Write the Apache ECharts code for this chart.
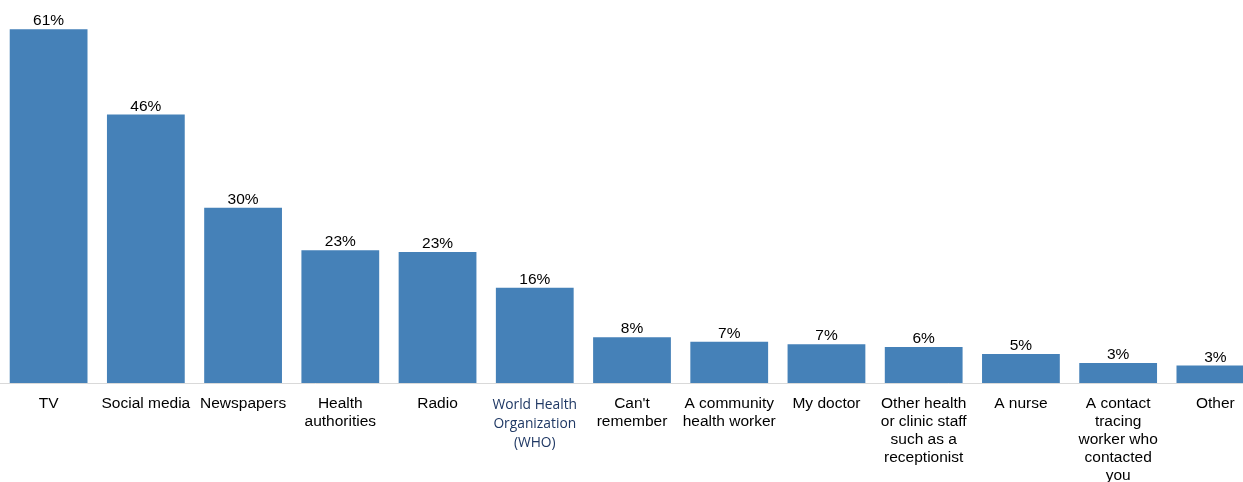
<!DOCTYPE html>
<html>
<head>
<meta charset="utf-8">
<script src="https://cdn.jsdelivr.net/npm/echarts@6/dist/echarts.min.js"></script>
<style>
html,body{margin:0;padding:0;overflow:hidden;background:#fff;}
#chart{width:1264px;height:482px;}
</style>
</head>
<body>
<div id="chart"></div>
<script>
var categories = [
  "TV", "Social media", "Newspapers", "Health\nauthorities", "Radio",
  "World Health\nOrganization\n(WHO)", "Can't\nremember", "A community\nhealth worker",
  "My doctor", "Other health\nor clinic staff\nsuch as a\nreceptionist", "A nurse",
  "A contact\ntracing\nworker who\ncontacted\nyou", "Other"
];
var values = [61.0, 46.3, 30.2, 22.9, 22.6, 16.4, 7.9, 7.1, 6.7, 6.2, 5.0, 3.45, 3.0];

var chart = echarts.init(document.getElementById('chart'));
chart.setOption({
  animation: false,
  grid: { left: 0, right: 0, top: 0, bottom: 99, containLabel: false, outerBoundsMode: 'none' },
  xAxis: {
    type: 'category',
    data: categories,
    axisLine: { show: true, lineStyle: { color: '#d9d9d9', width: 1 } },
    axisTick: { show: false },
    axisLabel: {
      interval: 0,
      margin: 12,
      fontFamily: 'Liberation Sans, Arial, sans-serif',
      fontSize: 15.5,
      lineHeight: 18,
      color: '#000',
      align: 'center',
      formatter: function (v) {
        if (v.indexOf('World Health') === 0) return '{who|' + v + '}';
        return v;
      },
      rich: {
        who: { fontFamily: 'Open Sans, Noto Sans, sans-serif', fontSize: 13.8, lineHeight: 19, color: '#1f3864', padding: [1, 0, 0, 0] }
      }
    }
  },
  yAxis: { type: 'value', min: 0, max: 66.03, show: false, splitLine: { show: false } },
  series: [{
    type: 'bar',
    data: values,
    barCategoryGap: '20%',
    itemStyle: { color: '#4581b8' },
    label: {
      show: true,
      position: 'top',
      distance: 0,
      fontFamily: 'Liberation Sans, Arial, sans-serif',
      fontSize: 15.5,
      color: '#000',
      formatter: function (p) { return Math.round(p.value) + '%'; }
    }
  }]
});
</script>
</body>
</html>
